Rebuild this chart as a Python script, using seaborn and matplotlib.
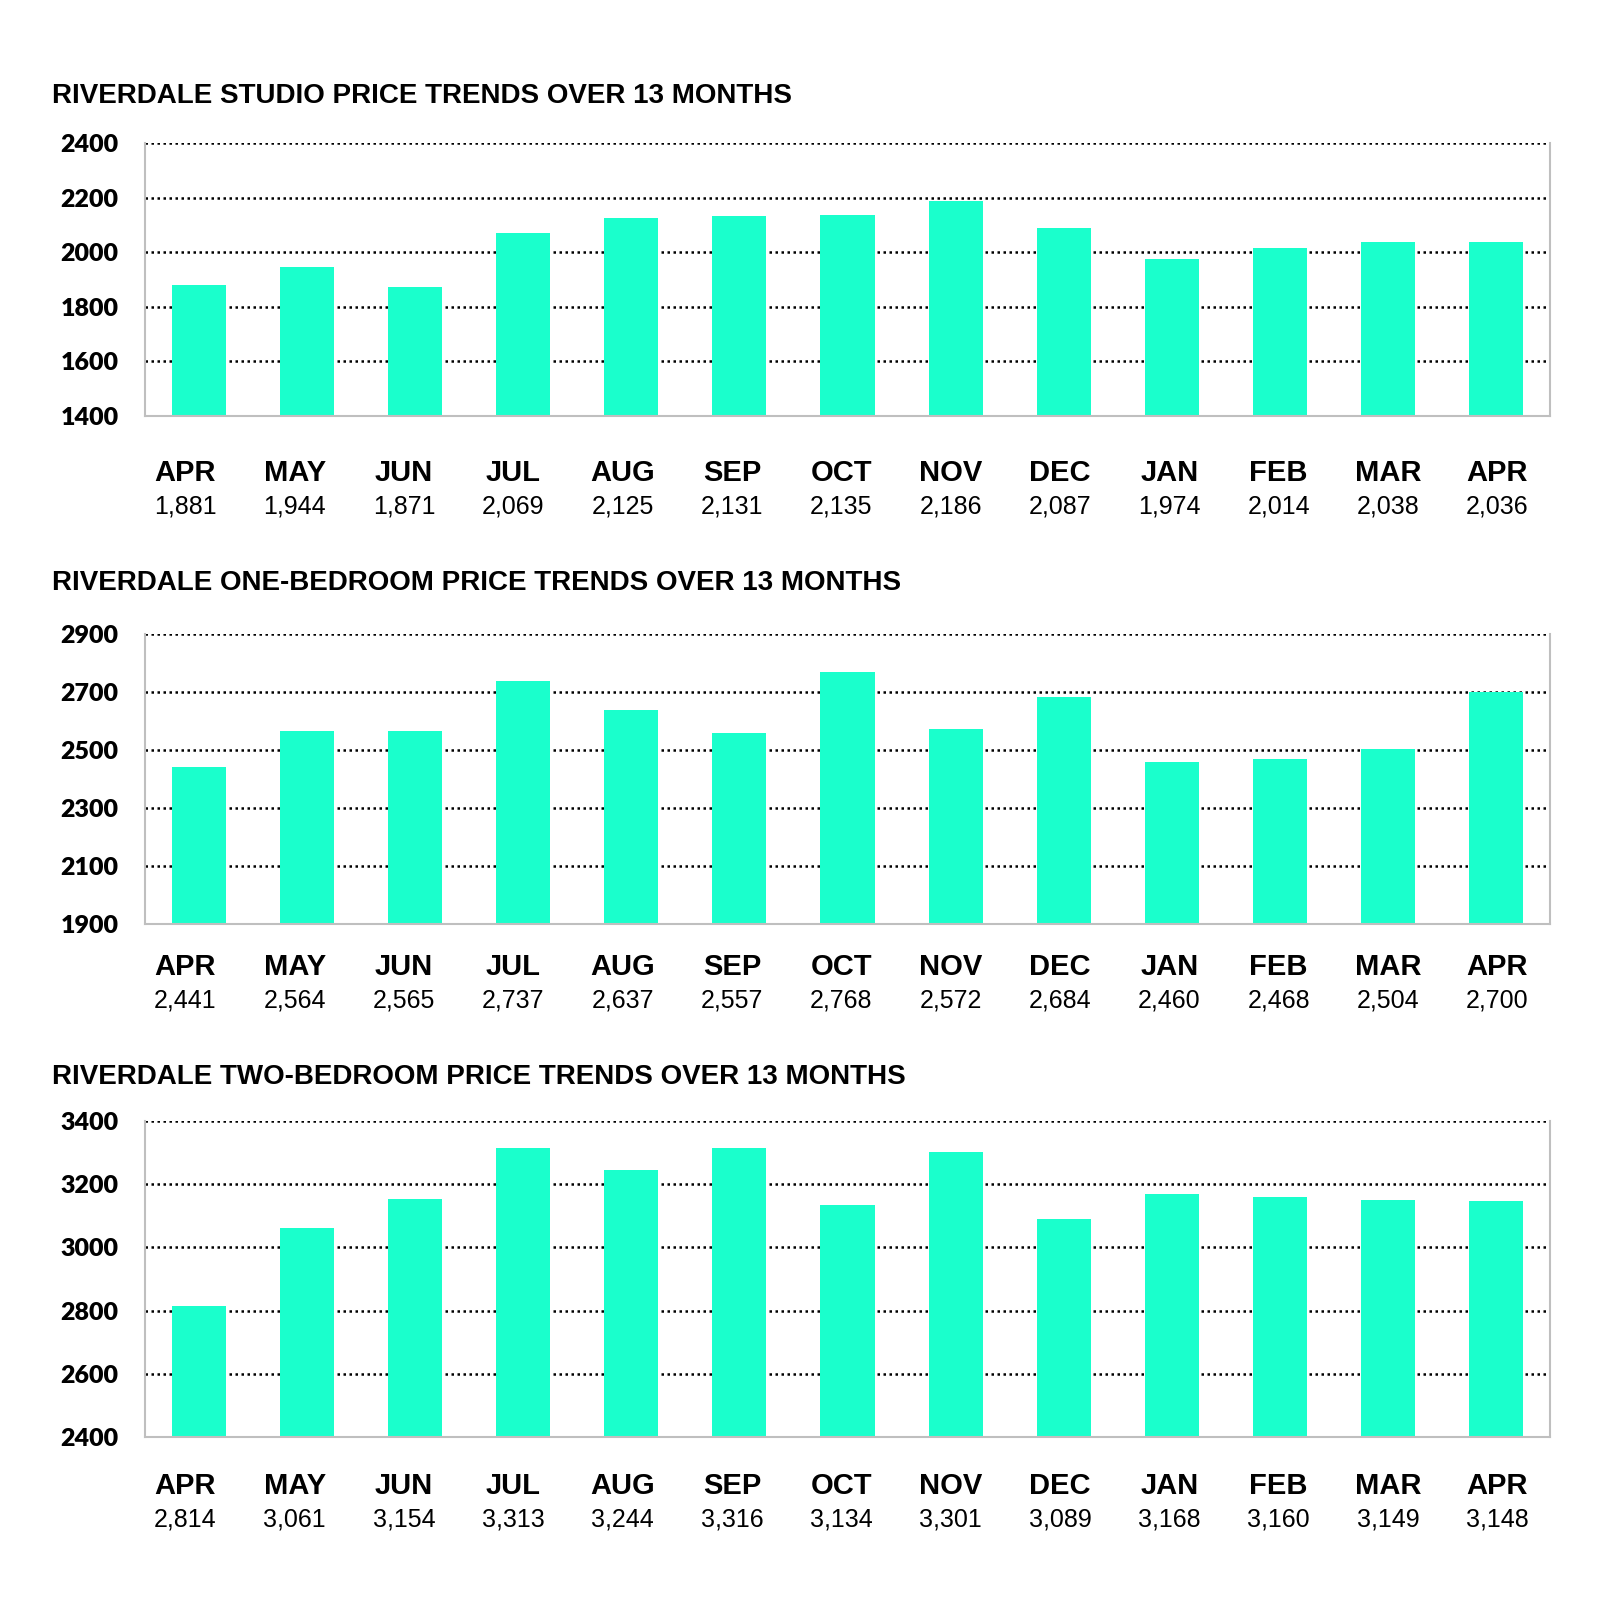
import matplotlib
matplotlib.use("Agg")
import matplotlib.pyplot as plt
import seaborn as sns
import numpy as np

months = ["APR", "MAY", "JUN", "JUL", "AUG", "SEP", "OCT", "NOV", "DEC", "JAN", "FEB", "MAR", "APR"]
studio = [1881, 1944, 1871, 2069, 2125, 2131, 2135, 2186, 2087, 1974, 2014, 2038, 2036]
one_bed = [2441, 2564, 2565, 2737, 2637, 2557, 2768, 2572, 2684, 2460, 2468, 2504, 2700]
two_bed = [2814, 3061, 3154, 3313, 3244, 3316, 3134, 3301, 3089, 3168, 3160, 3149, 3148]
titles = ["RIVERDALE STUDIO PRICE TRENDS OVER 13 MONTHS",
          "RIVERDALE ONE-BEDROOM PRICE TRENDS OVER 13 MONTHS",
          "RIVERDALE TWO-BEDROOM PRICE TRENDS OVER 13 MONTHS"]
yticks_list = [[1400, 1600, 1800, 2000, 2200, 2400],
               [1900, 2100, 2300, 2500, 2700, 2900],
               [2400, 2600, 2800, 3000, 3200, 3400]]

sns.set_theme(style="white")
plt.rcParams["font.family"] = ["Liberation Sans", "DejaVu Sans"]

W, H = 1600, 1619
fig = plt.figure(figsize=(W / 100, H / 100), dpi=100)
fig.patch.set_facecolor("white")

# layout in pixels: (top, bottom, title_y, month_offset, value_offset)
layout = [(143, 416, 96, 57, 90),
          (634, 924, 583, 43, 76),
          (1121, 1437, 1077, 49, 82)]
left_px, right_px = 145, 1550
bar_color = "#1AFFCC"
spine_gray = "#BFBFBF"
# label column placement across the axes (fraction of axes width)
lab_first, lab_last = 0.0287, 0.9625

series = [studio, one_bed, two_bed]
for k, (vals, title, yt, (top, bot, ty, moff, voff)) in enumerate(zip(series, titles, yticks_list, layout)):
    ax = fig.add_axes([left_px / W, 1 - bot / H, (right_px - left_px) / W, (bot - top) / H])
    pos = list(range(len(vals)))
    sns.barplot(x=pos, y=vals, color=bar_color, saturation=1, width=0.5, ax=ax, edgecolor="none")
    ax.set_xlim(-0.5, len(vals) - 0.5)
    ax.set_ylim(yt[0], yt[-1])
    ax.set_yticks(yt)
    ax.set_yticklabels([str(v) for v in yt], fontfamily="Lato", fontweight="heavy", fontsize=18, color="black")
    ax.tick_params(axis="y", length=0, pad=19)
    ax.set_xticks(np.arange(-0.5, len(vals), 1.0))
    ax.set_xticklabels([])
    ax.tick_params(axis="x", length=6, width=1.5, color=spine_gray, direction="out")
    ax.set_xlabel("")
    ax.set_ylabel("")
    ax.set_axisbelow(True)
    ax.yaxis.grid(True, color="black", linestyle=(0, (1, 1.4)), linewidth=1.8)
    ax.xaxis.grid(False)
    ax.spines["top"].set_visible(False)
    for s in ["left", "right", "bottom"]:
        ax.spines[s].set_color(spine_gray)
        ax.spines[s].set_linewidth(1.5)
    n = len(vals)
    for i, (m, v) in enumerate(zip(months, vals)):
        fx = lab_first + i * (lab_last - lab_first) / (n - 1)
        ax.annotate(m, xy=(fx, 0), xycoords="axes fraction", xytext=(0, -moff),
                    textcoords="offset pixels", ha="center", va="center",
                    fontsize=21, fontweight="bold", color="black")
        ax.annotate(f"{v:,}", xy=(fx, 0), xycoords="axes fraction", xytext=(0, -voff),
                    textcoords="offset pixels", ha="center", va="center",
                    fontsize=18, color="black")
    fig.text(52 / W, 1 - ty / H, title, ha="left", va="center", fontsize=20, fontweight="bold", color="black")

fig.savefig("out.png", dpi=100, facecolor="white")
